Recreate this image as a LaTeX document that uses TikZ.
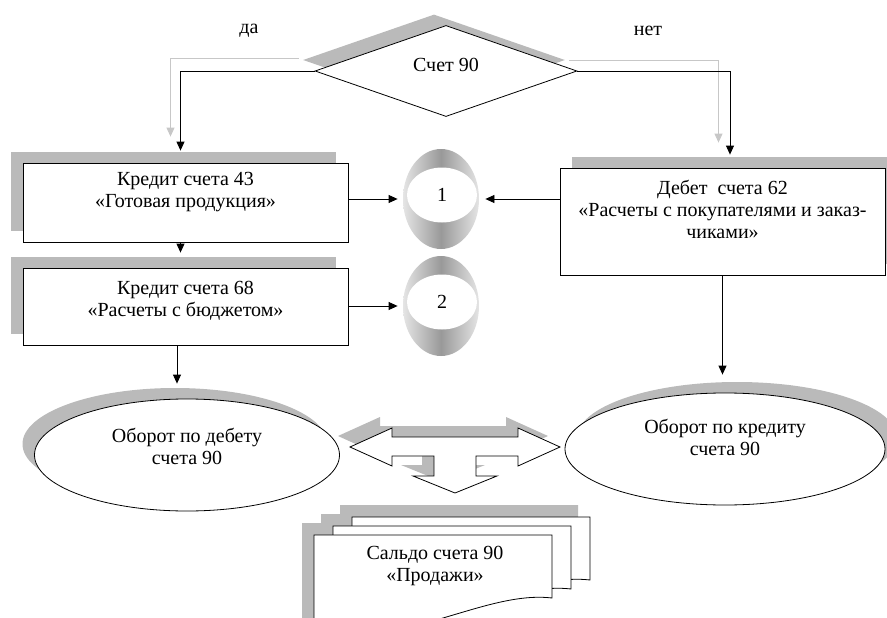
\documentclass[tikz,border=0pt]{standalone}
\usepackage{fontspec}
\setmainfont{Liberation Serif}
\usepackage{tikz}
\usetikzlibrary{arrows.meta, shapes.geometric, shadows}

\begin{document}
\begin{tikzpicture}[x=1pt, y=-1pt, ->, >={Triangle[length=9pt, width=8pt]}, line width=0.8pt]
	\useasboundingbox (0,0) rectangle (887,618);
	\fontsize{20}{22}\selectfont
	\tikzstyle{shl}=[drop shadow={shadow xshift=-12pt, shadow yshift=11pt, fill=black!27, opacity=1}]
	\tikzstyle{shr}=[drop shadow={shadow xshift=12pt, shadow yshift=11pt, fill=black!27, opacity=1}]
	\tikzstyle{box}=[rectangle, draw=black, fill=white, minimum width=325pt, align=center, inner sep=0pt]
	\tikzstyle{oval}=[ellipse, draw=black, fill=white, align=center, inner sep=0pt]
	\tikzstyle{ring}=[ellipse, minimum width=76pt, minimum height=100pt, inner sep=0pt, left color=black!10, right color=black!10, middle color=black!40]
	\tikzstyle{hole}=[ellipse, fill=white, minimum width=70pt, minimum height=55pt, inner sep=0pt]
	\tikzstyle{ghost}=[draw=black!22]
	% decision
	\node[diamond, draw, fill=white, shl, minimum width=262pt, minimum height=91pt, inner sep=0pt, text depth=12pt] (acc) at (446,71) {Счет 90};
	\node (yes) at (249,31) {да};
	\node (no) at (648,31) {нет};
	% accounts
	\node[box, shl, minimum height=79pt, text depth=25pt] (c43) at (185.5,202.5) {Кредит счета 43\\«Готовая продукция»};
	\node[box, shl, minimum height=77pt, text depth=15pt] (c68) at (185.5,306.5) {Кредит счета 68\\«Расчеты с бюджетом»};
	\node[box, shr, minimum height=107pt, text depth=25pt] (d62) at (722.5,221.5) {Дебет\ \ счета 62\\«Расчеты с покупателями и заказ-\\чиками»};
	\foreach \i/\y in {1/199,2/306} {
	    \node[ring] (r\i) at (441,\y) {};
	    \node[hole] (h\i) at (442,\y-4) {\i};
	}
	\node[oval, shl, minimum width=305pt, minimum height=112pt, text depth=18pt] (deb) at (187,455) {Оборот по дебету\\счета 90};
	\node[oval, shr, minimum width=320pt, minimum height=112pt, text depth=24pt] (cred) at (725,449) {Оборот по кредиту\\счета 90};
	% branches
	\draw[ghost, shorten >=13pt] ([shift={(-16,-13)}]acc.west) -| ([shift={(-15,-13)}]c43.north);
	\draw[ghost, shorten >=14pt] ([shift={(-8,-11)}]acc.east) -| ([shift={(-4,-11)}]d62.north);
	\draw[shorten >=12pt] (acc.west) -| ([xshift=-5pt]c43.north);
	\draw[shorten >=13pt] (acc.east) -| ([xshift=7.5pt]d62.north);
	\path ([xshift=-5pt]c43.south) edge[shorten >=15pt] ([xshift=-5pt]c68.north);
	\path (c43.east |- r1.west) edge[shorten >=5pt] (r1.west);
	\path (d62.west |- r1.east) edge[shorten >=6pt] (r1.east);
	\path (c68.east |- r2.west) edge[shorten >=5pt] (r2.west);
	\path ([xshift=-8.5pt]c68.south) edge[shorten >=15pt] ([xshift=-8.5pt]c68.south |- deb.north);
	\path (d62.south) edge[shorten >=18pt] (d62.south |- cred.north);
	% block arrow
	\coordinate (mid) at (455,447);
	\path[draw, fill=white, shl, shift={(mid)}] (-105,0) -- (-63,-19) -- (-63,-10) -- (63,-10) -- (63,-19) -- (105,0) -- (63,19) -- (63,9) -- (21,9) -- (21,29) -- (42,29) -- (0,46) -- (-42,29) -- (-21,29) -- (-21,9) -- (-63,9) -- (-63,19) -- cycle;
	% balance
	\foreach \x/\y in {352/517,333/526,314/535}
	    \fill[black!27, shift={(\x-12,\y-12)}] (0,0) -- (238,0) -- (238,63) .. controls (170,55) and (90,115) .. (0,95) -- cycle;
	\foreach \x/\y in {352/517,333/526,314/535}
	    \draw[fill=white, shift={(\x,\y)}] (0,0) -- (238,0) -- (238,63) .. controls (170,55) and (90,115) .. (0,95) -- cycle;
	\node[align=center] (saldo) at (435,566) {Сальдо счета 90\\«Продажи»};
\end{tikzpicture}
\end{document}
